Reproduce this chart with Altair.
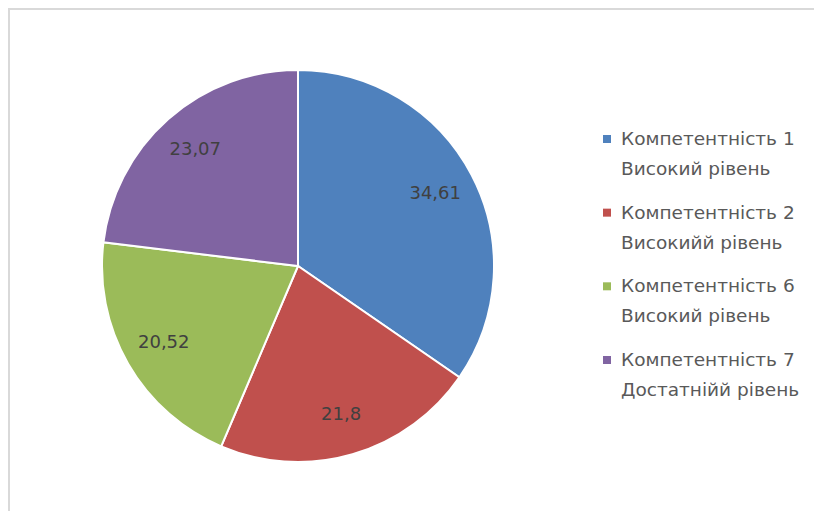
import altair as alt
import pandas as pd

categories = [
    "Компетентність 1\nВисокий рівень",
    "Компетентність 2\nВисокийй рівень",
    "Компетентність 6\nВисокий рівень",
    "Компетентність 7\nДостатнійй рівень",
]
values = [34.61, 21.8, 20.52, 23.07]
value_labels = ["34,61", "21,8", "20,52", "23,07"]
colors = ["#4F81BD", "#C0504D", "#9BBB59", "#8064A2"]

df = pd.DataFrame({
    "cat": categories,
    "value": values,
    "label": value_labels,
    "order": list(range(len(categories))),
    "row": list(range(len(categories))),
})

FONT = "DejaVu Sans"
CX, CY, R = 290, 258, 196

color = alt.Color("cat:N", scale=alt.Scale(domain=categories, range=colors), legend=None)

one = pd.DataFrame({"a": [0]})
border_top = alt.Chart(one).mark_rule(color="#d9d9d9", strokeWidth=2).encode(
    x=alt.value(0), x2=alt.value(830), y=alt.value(1)
)
border_left = alt.Chart(one).mark_rule(color="#d9d9d9", strokeWidth=2).encode(
    x=alt.value(1), y=alt.value(0), y2=alt.value(520)
)

base = alt.Chart(df).encode(
    theta=alt.Theta("value:Q", stack=True),
    order=alt.Order("order:Q"),
)

pie = base.mark_arc(outerRadius=R, stroke="white", strokeWidth=2).encode(
    color=color, x=alt.value(CX), y=alt.value(CY)
)

labels = base.mark_text(radius=155, font=FONT, fontSize=18, color="#404040").encode(
    text="label:N", x=alt.value(CX), y=alt.value(CY)
)

yscale = alt.Scale(domain=[-1.778, 5.05], reverse=True)

leg_sym = alt.Chart(df).mark_square(size=64, opacity=1).encode(
    x=alt.value(599),
    y=alt.Y("row:Q", scale=yscale, axis=None),
    color=color,
)

leg_txt = alt.Chart(df).mark_text(
    align="left", baseline="middle", lineBreak="\n", lineHeight=30,
    font=FONT, fontSize=18.5, color="#595959"
).encode(
    x=alt.value(613),
    y=alt.Y("row:Q", scale=yscale, axis=None),
    text="cat:N",
)

chart = alt.layer(border_top, border_left, pie, labels, leg_sym, leg_txt).properties(
    width=806, height=503, padding=0, autosize=alt.AutoSizeParams(type="none"),
    background="white"
).configure_view(strokeWidth=0, strokeOpacity=0)

chart.save("out.html", embed_options={"renderer": "svg", "actions": False})
